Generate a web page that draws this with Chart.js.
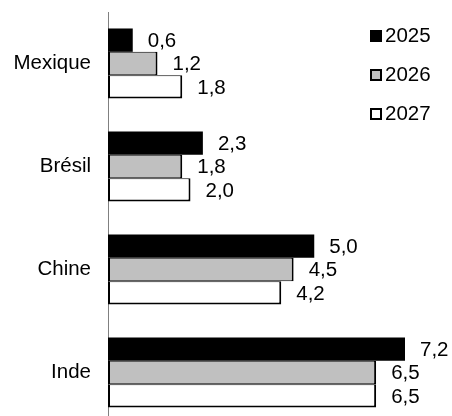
<!DOCTYPE html>
<html>
<head>
<meta charset="utf-8">
<script src="https://cdn.jsdelivr.net/npm/chart.js@4/dist/chart.umd.min.js"></script>
<style>
  html, body { margin: 0; padding: 0; background: #fff; overflow: hidden; }
  #wrap { width: 452px; height: 416px; overflow: hidden; }
  #c { display: block; }
</style>
</head>
<body>
<div id="wrap"><canvas id="c" width="452" height="424"></canvas></div>
<script>
const categories = ["Mexique", "Brésil", "Chine", "Inde"];
const seriesNames = ["2025", "2026", "2027"];
const values2025 = [0.6, 2.3, 5.0, 7.2];
const values2026 = [1.2, 1.8, 4.5, 6.5];
const values2027 = [1.8, 2.0, 4.2, 6.5];

const FONT = '"Liberation Sans", Arial, sans-serif';
const FSIZE = 20.5;

const fmt = v => v.toFixed(1).replace('.', ',');

const labelPlugin = {
  id: 'valueLabels',
  afterDatasetsDraw(chart) {
    const ctx = chart.ctx;
    ctx.save();
    ctx.font = FSIZE + 'px ' + FONT;
    ctx.fillStyle = '#000';
    ctx.textBaseline = 'middle';
    ctx.textAlign = 'left';
    chart.data.datasets.forEach((ds, i) => {
      const meta = chart.getDatasetMeta(i);
      meta.data.forEach((bar, j) => {
        ctx.fillText(fmt(ds.data[j]), bar.x + 15, bar.y + 1);
      });
    });
    ctx.restore();
  }
};

const legendPlugin = {
  id: 'customLegend',
  afterDraw(chart) {
    const ctx = chart.ctx;
    ctx.save();
    ctx.font = FSIZE + 'px ' + FONT;
    ctx.textBaseline = 'middle';
    ctx.textAlign = 'left';
    const ys = [36, 75, 114];
    chart.data.datasets.forEach((ds, i) => {
      const y = ys[i];
      ctx.fillStyle = ds.backgroundColor;
      ctx.fillRect(370, y - 6, 12, 12);
      if (i > 0) {
        ctx.strokeStyle = '#000';
        ctx.lineWidth = 2;
        ctx.strokeRect(371, y - 5, 10, 10);
      }
      ctx.fillStyle = '#000';
      ctx.fillText(ds.label, 385, y);
    });
    ctx.restore();
  }
};

new Chart(document.getElementById('c'), {
  type: 'bar',
  data: {
    labels: categories,
    datasets: [
      { label: seriesNames[0], data: values2025, backgroundColor: '#000000', borderColor: '#000000', borderWidth: 0 },
      { label: seriesNames[1], data: values2026, backgroundColor: '#c0c0c0', borderColor: '#000000', borderSkipped: false,
        borderWidth: { top: 1, bottom: 1, left: 2, right: 2 } },
      { label: seriesNames[2], data: values2027, backgroundColor: '#ffffff', borderColor: '#000000', borderSkipped: false,
        borderWidth: { top: 1, bottom: 2, left: 2, right: 2 } }
    ]
  },
  options: {
    indexAxis: 'y',
    responsive: false,
    animation: false,
    layout: { padding: { top: 12, bottom: 0, left: 0, right: 14 } },
    datasets: { bar: { categoryPercentage: 0.68, barPercentage: 1.0 } },
    plugins: { legend: { display: false }, tooltip: { enabled: false } },
    scales: {
      x: { display: false, min: 0, max: 8 },
      y: {
        grid: { display: false, drawTicks: false },
        border: { display: true, color: '#808080', width: 1 },
        ticks: { color: '#000', font: { family: FONT, size: FSIZE }, padding: 17 },
        afterFit(scale) {
          scale.width = 108;
          scale.paddingTop = 0;
          scale.paddingBottom = 0;
        }
      }
    }
  },
  plugins: [labelPlugin, legendPlugin]
});
</script>
</body>
</html>
